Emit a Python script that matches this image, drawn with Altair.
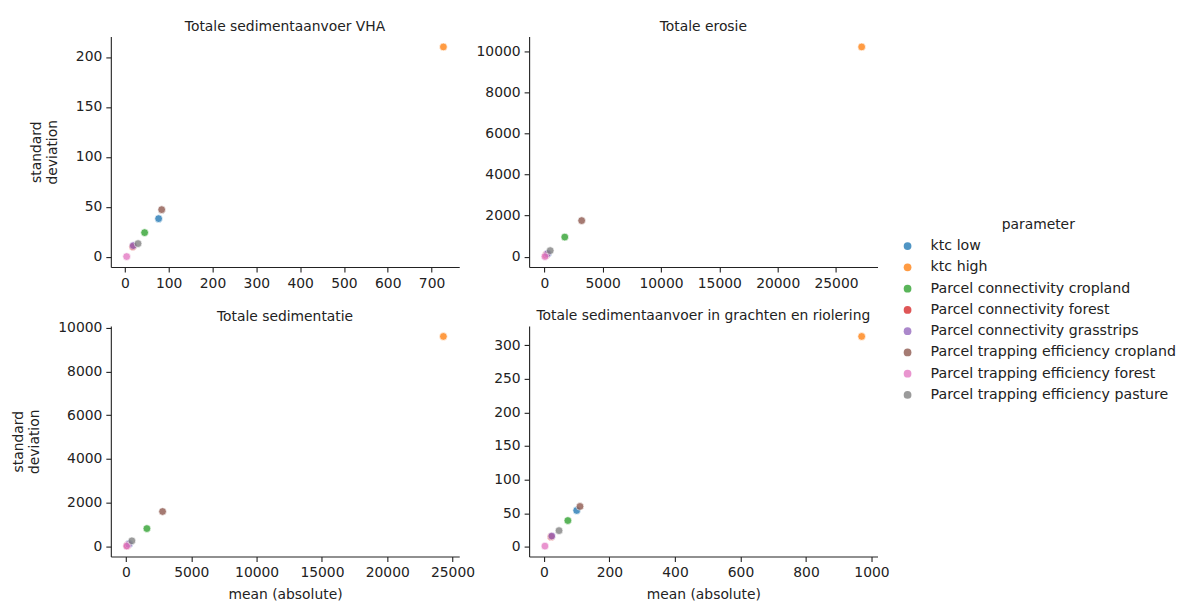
import altair as alt
import pandas as pd

parameters = [
    "ktc low",
    "ktc high",
    "Parcel connectivity cropland",
    "Parcel connectivity forest",
    "Parcel connectivity grasstrips",
    "Parcel trapping efficiency cropland",
    "Parcel trapping efficiency forest",
    "Parcel trapping efficiency pasture",
]
colors = ["#1f77b4", "#ff7f0e", "#2ca02c", "#d62728", "#9467bd", "#8c564b", "#e377c2", "#7f7f7f"]

titles = [
    "Totale sedimentaanvoer VHA",
    "Totale erosie",
    "Totale sedimentatie",
    "Totale sedimentaanvoer in grachten en riolering",
]

vha_mean = [77, 727, 45, 18, 19, 84, 4, 30]
vha_std = [38, 210, 24, 10, 11, 47, 0, 13]
erosie_mean = [300, 27200, 1750, 150, 250, 3200, 50, 500]
erosie_std = [150, 10200, 950, 80, 130, 1750, 0, 290]
sedim_mean = [250, 24300, 1600, 100, 200, 2800, 50, 450]
sedim_std = [130, 9600, 820, 50, 100, 1600, 20, 260]
gracht_mean = [100, 970, 73, 22, 24, 110, 3, 46]
gracht_std = [54, 313, 39, 15, 16, 60, 1, 24]

x_ticks = [
    [0, 100, 200, 300, 400, 500, 600, 700],
    [0, 5000, 10000, 15000, 20000, 25000],
    [0, 5000, 10000, 15000, 20000, 25000],
    [0, 200, 400, 600, 800, 1000],
]
y_ticks = [
    [0, 50, 100, 150, 200],
    [0, 2000, 4000, 6000, 8000, 10000],
    [0, 2000, 4000, 6000, 8000, 10000],
    [0, 50, 100, 150, 200, 250, 300],
]
title_offsets = [3, 3, -3, 3]

FONT = "DejaVu Sans"
TXT = "#222222"
FS = 13.9
W, H = 349, 231


def margin_domain(vals, frac=0.05):
    lo, hi = min(vals), max(vals)
    d = (hi - lo) * frac
    return [lo - d, hi + d]


def panel(i, means, stds, show_x_title, show_y_title):
    df = pd.DataFrame({"parameter": parameters, "mean": means, "std": stds})
    if show_x_title:
        x_axis = alt.Axis(values=x_ticks[i], format="d", title="mean (absolute)")
    else:
        x_axis = alt.Axis(values=x_ticks[i], format="d", title=None)
    if show_y_title:
        y_axis = alt.Axis(values=y_ticks[i], format="d", title=["standard", "deviation"])
    else:
        y_axis = alt.Axis(values=y_ticks[i], format="d", title=None)
    return (
        alt.Chart(
            df,
            title=alt.TitleParams(titles[i], anchor="middle", frame="group", offset=title_offsets[i]),
        )
        .mark_point(filled=True, size=60, opacity=0.78, stroke="white", strokeWidth=0.75, strokeOpacity=0.9)
        .encode(
            x=alt.X("mean:Q", scale=alt.Scale(domain=margin_domain(means), nice=False, zero=False), axis=x_axis),
            y=alt.Y("std:Q", scale=alt.Scale(domain=margin_domain(stds), nice=False, zero=False), axis=y_axis),
            color=alt.Color(
                "parameter:N",
                scale=alt.Scale(domain=parameters, range=colors),
                legend=alt.Legend(title="parameter"),
            ),
        )
        .properties(width=W, height=H)
    )


p1 = panel(0, vha_mean, vha_std, False, True)
p2 = panel(1, erosie_mean, erosie_std, False, False)
p3 = panel(2, sedim_mean, sedim_std, True, True)
p4 = panel(3, gracht_mean, gracht_std, True, False)

chart = (
    alt.concat(p1, p2, p3, p4, columns=2, spacing={"row": 19, "column": 0})
    .properties(padding={"left": 3, "top": 11, "right": 0, "bottom": 0})
    .configure_view(stroke=None)
    .configure_title(font=FONT, fontSize=FS, fontWeight="normal", color=TXT)
    .configure_axis(
        labelFont=FONT,
        labelFontSize=FS,
        labelColor=TXT,
        titleFont=FONT,
        titleFontSize=FS,
        titleFontWeight="normal",
        titleColor=TXT,
        domainColor="#222222",
        domainWidth=1.1,
        tickColor="#222222",
        tickSize=5,
        tickWidth=1.1,
        labelPadding=4,
        grid=False,
        labelFlush=False,
        labelOverlap=False,
    )
    .configure_axisY(titlePadding=16)
    .configure_axisX(titlePadding=8)
    .configure_legend(
        orient="none",
        legendX=791,
        legendY=182,
        titleFont=FONT,
        titleFontSize=FS,
        titleFontWeight="normal",
        titleColor=TXT,
        titleAnchor="middle",
        titlePadding=7,
        labelFont=FONT,
        labelFontSize=14.2,
        labelColor=TXT,
        labelLimit=0,
        symbolSize=60,
        symbolOpacity=0.78,
        symbolStrokeWidth=0,
        rowPadding=6.3,
        labelOffset=16,
    )
)

chart.save("out.html", embed_options={"renderer": "svg", "actions": False})
